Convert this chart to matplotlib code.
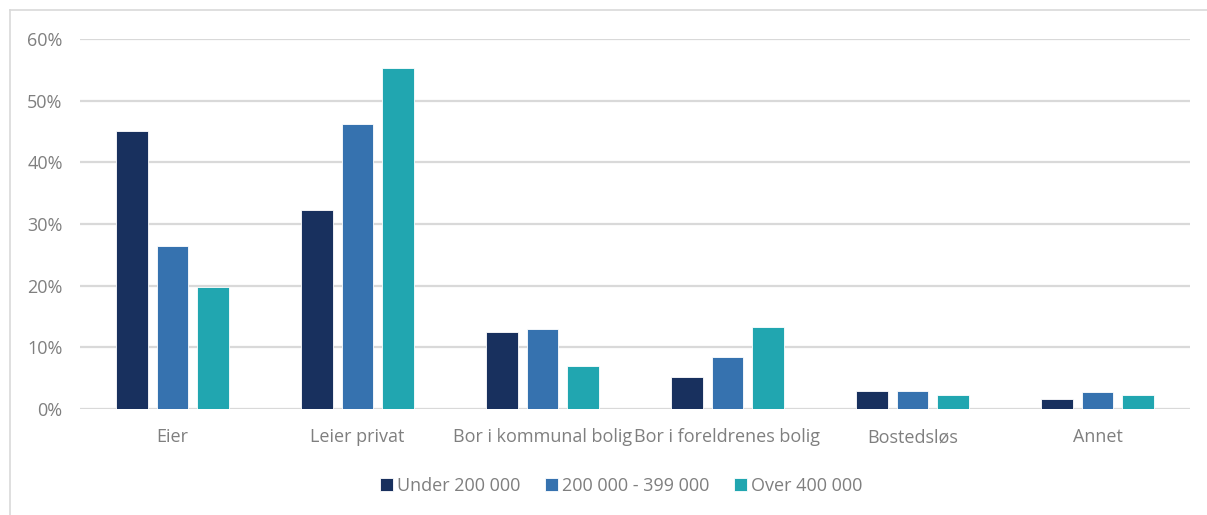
import matplotlib
matplotlib.use("Agg")
import matplotlib.pyplot as plt
from matplotlib.lines import Line2D
import numpy as np

categories = ["Eier", "Leier privat", "Bor i kommunal bolig", "Bor i foreldrenes bolig",
              "Bostedsløs", "Annet"]
series_names = ["Under 200 000", "200 000 - 399 000", "Over 400 000"]
under_200 = [45.1, 32.3, 12.5, 5.2, 3.0, 1.6]
mid_200_399 = [26.4, 46.2, 12.9, 8.5, 3.0, 2.7]
over_400 = [19.8, 55.3, 7.0, 13.3, 2.3, 2.3]
y_ticks = [0, 10, 20, 30, 40, 50, 60]

colors = ["#18305E", "#3672AF", "#21A6B0"]
text_color = "#7F7F7F"
grid_color = "#D9D9D9"

plt.rcParams["font.family"] = ["Open Sans", "DejaVu Sans"]

fig = plt.figure(figsize=(12.07, 5.15), dpi=100)
W, H = 1207, 515
ax = fig.add_axes([80 / W, 1 - 409 / H, (1190 - 80) / W, (409 - 39) / H])

x = np.arange(len(categories))
width = 0.172
pitch = 0.22
for i, (vals, name) in enumerate(zip([under_200, mid_200_399, over_400], series_names)):
    ax.bar(x + (i - 1) * pitch, vals, width, color=colors[i], label=name,
           edgecolor="white", linewidth=0.6, zorder=3)

ax.set_xlim(-0.5, len(categories) - 0.5)
ax.set_ylim(0, 60)
ax.set_yticks(y_ticks)
ax.set_yticklabels([f"{v}%" for v in y_ticks])
ax.set_xticks(x)
ax.set_xticklabels(categories)
ax.grid(axis="y", color=grid_color, linewidth=1.6, zorder=0)
ax.set_axisbelow(True)
for s in ax.spines.values():
    s.set_visible(False)
ax.tick_params(axis="both", length=0, colors=text_color, labelsize=13)
ax.tick_params(axis="y", pad=12.5)
ax.tick_params(axis="x", pad=14)

# outer chart frame (top and left edges)
fig.add_artist(Line2D([10 / W, 10 / W], [0, 1 - 10 / H], color="#D9D9D9", linewidth=1.2,
                      transform=fig.transFigure))
fig.add_artist(Line2D([10 / W, 1], [1 - 10 / H, 1 - 10 / H], color="#D9D9D9", linewidth=1.2,
                      transform=fig.transFigure))

leg = fig.legend(loc="center", bbox_to_anchor=(621 / W, 1 - 486 / H), ncol=3, frameon=False,
                 fontsize=13, handlelength=0.75, handleheight=0.75, handletextpad=0.2,
                 columnspacing=1.35, labelcolor=text_color)

fig.savefig("out.png", dpi=100, facecolor="white")
